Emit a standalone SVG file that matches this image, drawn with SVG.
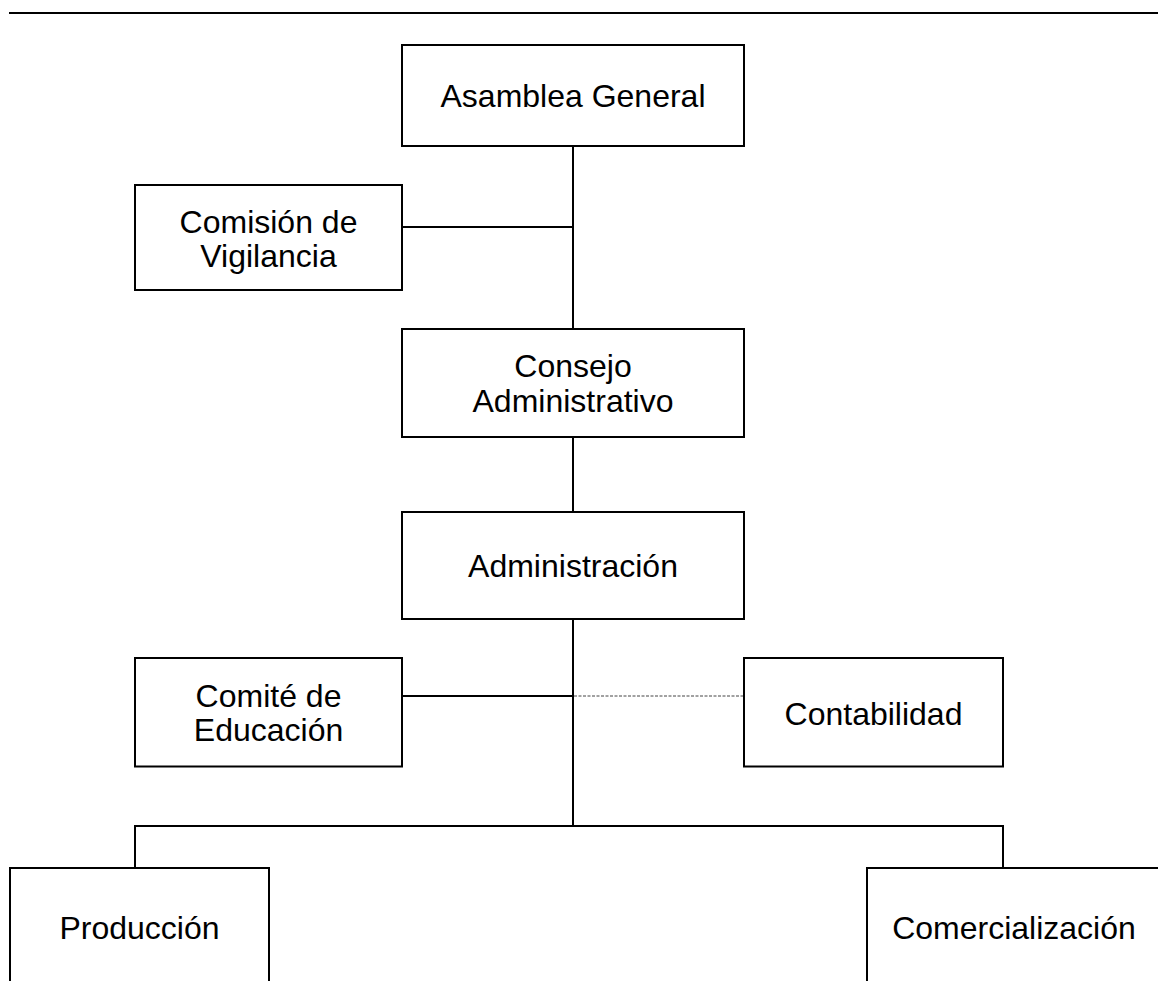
<svg xmlns="http://www.w3.org/2000/svg" width="1158" height="981" viewBox="0 0 1158 981">
<style>
.box{fill:#fff;stroke:#000;stroke-width:2}
.ln{stroke:#000;stroke-width:2;fill:none}
.dash{stroke:#444;stroke-width:1;stroke-dasharray:3 1.5;fill:none}
.t{font-family:"Liberation Sans",Arial,sans-serif;font-size:32px;fill:#000;text-anchor:middle}
</style>
<rect width="1158" height="981" fill="#fff"/>
<line class="ln" x1="9" y1="13" x2="1158" y2="13"/>
<g id="connectors">
<line class="ln" x1="573" y1="146" x2="573" y2="329"/>
<line class="ln" x1="402" y1="227" x2="573" y2="227"/>
<line class="ln" x1="573" y1="437" x2="573" y2="512"/>
<line class="ln" x1="573" y1="619" x2="573" y2="826"/>
<line class="ln" x1="402" y1="696" x2="573" y2="696"/>
<line class="dash" x1="574" y1="696" x2="744" y2="696"/>
<polyline class="ln" points="135,868 135,826 1003,826 1003,868"/>
</g>
<g id="asamblea">
<rect class="box" x="402" y="45" width="342" height="101"/>
<text class="t" x="573" y="107">Asamblea General</text>
</g>
<g id="comision">
<rect class="box" x="135" y="185" width="267" height="105"/>
<text class="t" x="268.5" y="233">Comisión de</text>
<text class="t" x="268.5" y="267">Vigilancia</text>
</g>
<g id="consejo">
<rect class="box" x="402" y="329" width="342" height="108"/>
<text class="t" x="573" y="377">Consejo</text>
<text class="t" x="573" y="411.5">Administrativo</text>
</g>
<g id="administracion">
<rect class="box" x="402" y="512" width="342" height="107"/>
<text class="t" x="573" y="577">Administración</text>
</g>
<g id="comite">
<rect class="box" x="135" y="658" width="267" height="108.5"/>
<text class="t" x="268.5" y="706.5">Comité de</text>
<text class="t" x="268.5" y="741">Educación</text>
</g>
<g id="contabilidad">
<rect class="box" x="744" y="658" width="259" height="108.5"/>
<text class="t" x="873.5" y="724.5">Contabilidad</text>
</g>
<g id="produccion">
<rect class="box" x="10" y="868" width="259" height="140"/>
<text class="t" x="139.5" y="939">Producción</text>
</g>
<g id="comercializacion">
<rect class="box" x="867" y="868" width="300" height="140"/>
<text class="t" x="1014" y="939">Comercialización</text>
</g>
</svg>
